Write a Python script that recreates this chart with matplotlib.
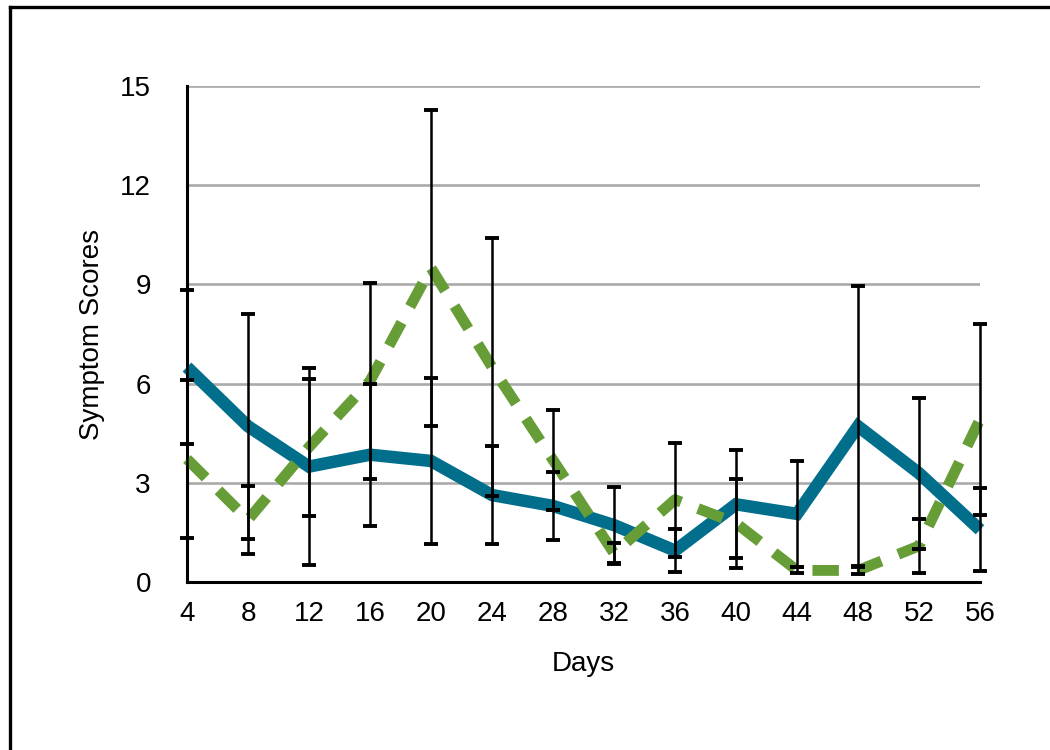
import matplotlib
matplotlib.use("Agg")
import matplotlib.pyplot as plt
from matplotlib.lines import Line2D

days = [4, 8, 12, 16, 20, 24, 28, 32, 36, 40, 44, 48, 52, 56]
blue_vals = [6.5, 4.71, 3.49, 3.85, 3.66, 2.63, 2.3, 1.72, 0.95, 2.35, 2.06, 4.71, 3.29, 1.58]
blue_err = [2.33, 3.4, 2.97, 2.15, 2.52, 1.47, 1.03, 1.16, 0.66, 1.63, 1.61, 4.25, 2.28, 1.26]
green_vals = [3.72, 1.88, 4.08, 6.08, 9.5, 6.5, 3.69, 0.87, 2.49, 1.78, 0.35, 0.35, 1.09, 4.92]
green_err = [2.4, 1.03, 2.07, 2.97, 4.77, 3.9, 1.51, 0.32, 1.72, 1.35, 0.09, 0.12, 0.82, 2.89]
y_ticks = [0, 3, 6, 9, 12, 15]

plt.rcParams['font.family'] = ['Liberation Sans', 'DejaVu Sans']
plt.rcParams['lines.scale_dashes'] = False

W, H = 1050, 750
fig = plt.figure(figsize=(W / 100, H / 100), dpi=100)
ax = fig.add_axes([187 / W, 1 - 582 / H, (980 - 187) / W, (582 - 86) / H])

blue = '#016E8C'
green = '#669D36'

ax.plot(days, blue_vals, color=blue, lw=9, solid_joinstyle='miter',
        solid_capstyle='butt', zorder=3, clip_on=False)
ax.plot(days, green_vals, color=green, lw=7.8, dashes=(19, 13),
        dash_capstyle='butt', zorder=3, clip_on=False)

ax.errorbar(days, blue_vals, yerr=blue_err, fmt='none', ecolor='black',
            elinewidth=1.8, capsize=5, capthick=2.8, zorder=4, clip_on=False)
ax.errorbar(days, green_vals, yerr=green_err, fmt='none', ecolor='black',
            elinewidth=1.8, capsize=5, capthick=2.8, zorder=4, clip_on=False)

ax.set_xlim(4, 56)
ax.set_ylim(0, 15)
ax.set_xticks(days)
ax.set_yticks(y_ticks)
ax.tick_params(axis='both', length=0, labelsize=20)
ax.tick_params(axis='y', pad=26)
ax.tick_params(axis='x', pad=14)

ax.yaxis.grid(True, color='#AAAAAA', lw=1.9)
ax.set_axisbelow(True)
for s in ['top', 'right']:
    ax.spines[s].set_visible(False)
for s in ['left', 'bottom']:
    ax.spines[s].set_linewidth(2.2)
    ax.spines[s].set_color('black')
    ax.spines[s].set_zorder(2)

ax.set_xlabel('Days', fontsize=20, labelpad=17)
ax.set_ylabel('Symptom Scores', fontsize=20, labelpad=11)

# figure frame (top and left edges)
fig.add_artist(Line2D([10 / W, 1.0], [1 - 7 / H, 1 - 7 / H], transform=fig.transFigure,
                      color='black', lw=2.4))
fig.add_artist(Line2D([10 / W, 10 / W], [0, 1 - 7 / H], transform=fig.transFigure,
                      color='black', lw=2.4))

fig.savefig('out.png', dpi=100)
